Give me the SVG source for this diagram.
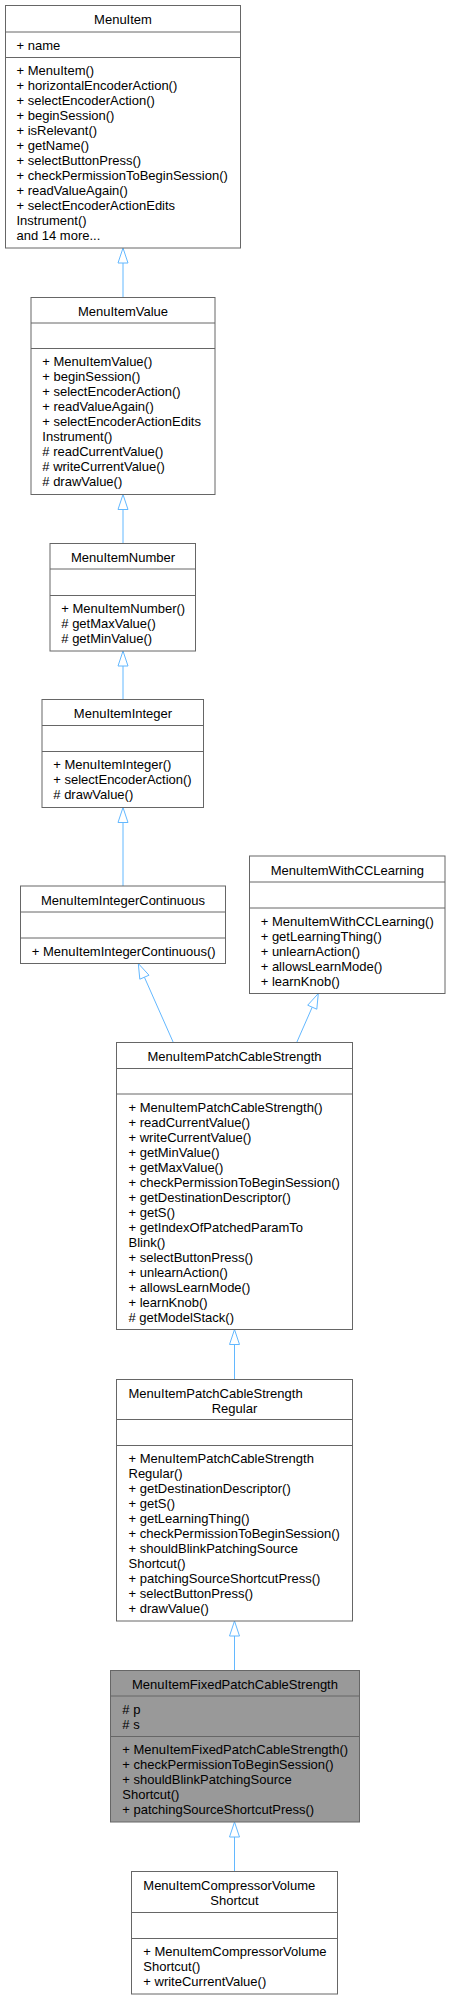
<svg xmlns="http://www.w3.org/2000/svg" width="450" height="2000" viewBox="0 0 450 2000">
<style>
  .box { fill: #ffffff; stroke: #666666; stroke-width: 1; }
  .cur { fill: #999999; stroke: #666666; stroke-width: 1; }
  .sep { stroke: #666666; stroke-width: 1; }
  text { font-family: "Liberation Sans", Arial, sans-serif; font-size: 13px; fill: #000000; }
  .t { text-anchor: middle; }
  .edge { stroke: #63b8ff; stroke-width: 1; fill: none; }
  .head { fill: #ffffff; stroke: #63b8ff; stroke-width: 1; }
</style>
<rect width="450" height="2000" fill="#ffffff"/>

<g id="connectors">
  <line class="edge" x1="123" y1="297.5" x2="123" y2="263"/>
  <polygon class="head" points="123,248 118,263 128,263"/>
  <line class="edge" x1="123" y1="543.5" x2="123" y2="509.5"/>
  <polygon class="head" points="123,494.5 118,509.5 128,509.5"/>
  <line class="edge" x1="123" y1="699.5" x2="123" y2="666"/>
  <polygon class="head" points="123,651 118,666 128,666"/>
  <line class="edge" x1="123" y1="886" x2="123" y2="822.5"/>
  <polygon class="head" points="123,807.5 118,822.5 128,822.5"/>
  <line class="edge" x1="173.3" y1="1042.5" x2="144.4" y2="977.2"/>
  <polygon class="head" points="138.3,963.5 149,975.2 139.8,979.2"/>
  <line class="edge" x1="296.7" y1="1042.5" x2="312.2" y2="1007.2"/>
  <polygon class="head" points="318.3,993.5 316.8,1009.2 307.7,1005.2"/>
  <line class="edge" x1="234.5" y1="1379.5" x2="234.5" y2="1344.5"/>
  <polygon class="head" points="234.5,1329.5 229.5,1344.5 239.5,1344.5"/>
  <line class="edge" x1="234.5" y1="1670.5" x2="234.5" y2="1636"/>
  <polygon class="head" points="234.5,1621 229.5,1636 239.5,1636"/>
  <line class="edge" x1="234.5" y1="1871.5" x2="234.5" y2="1837"/>
  <polygon class="head" points="234.5,1822 229.5,1837 239.5,1837"/>
</g>

<g id="MenuItem">
  <rect class="box" x="5.5" y="5.5" width="235" height="242.5"/>
  <line class="sep" x1="5.5" y1="32" x2="240.5" y2="32"/>
  <line class="sep" x1="5.5" y1="57.5" x2="240.5" y2="57.5"/>
  <text class="t" x="123" y="24">MenuItem</text>
  <text x="16.5" y="49.8">+ name</text>
  <text x="16.5" y="75.3">+ MenuItem()</text>
  <text x="16.5" y="90.3">+ horizontalEncoderAction()</text>
  <text x="16.5" y="105.3">+ selectEncoderAction()</text>
  <text x="16.5" y="120.3">+ beginSession()</text>
  <text x="16.5" y="135.3">+ isRelevant()</text>
  <text x="16.5" y="150.3">+ getName()</text>
  <text x="16.5" y="165.3">+ selectButtonPress()</text>
  <text x="16.5" y="180.3">+ checkPermissionToBeginSession()</text>
  <text x="16.5" y="195.3">+ readValueAgain()</text>
  <text x="16.5" y="210.3">+ selectEncoderActionEdits</text>
  <text x="16.5" y="225.3">Instrument()</text>
  <text x="16.5" y="240.3">and 14 more...</text>
</g>

<g id="MenuItemValue">
  <rect class="box" x="31" y="297.5" width="184" height="197"/>
  <line class="sep" x1="31" y1="323" x2="215" y2="323"/>
  <line class="sep" x1="31" y1="348.5" x2="215" y2="348.5"/>
  <text class="t" x="123" y="316">MenuItemValue</text>
  <text x="42.3" y="366.3">+ MenuItemValue()</text>
  <text x="42.3" y="381.3">+ beginSession()</text>
  <text x="42.3" y="396.3">+ selectEncoderAction()</text>
  <text x="42.3" y="411.3">+ readValueAgain()</text>
  <text x="42.3" y="426.3">+ selectEncoderActionEdits</text>
  <text x="42.3" y="441.3">Instrument()</text>
  <text x="42.3" y="456.3"># readCurrentValue()</text>
  <text x="42.3" y="471.3"># writeCurrentValue()</text>
  <text x="42.3" y="486.3"># drawValue()</text>
</g>

<g id="MenuItemNumber">
  <rect class="box" x="50" y="543.5" width="145.5" height="107.5"/>
  <line class="sep" x1="50" y1="569" x2="195.5" y2="569"/>
  <line class="sep" x1="50" y1="595.5" x2="195.5" y2="595.5"/>
  <text class="t" x="123" y="562">MenuItemNumber</text>
  <text x="61.3" y="613.3">+ MenuItemNumber()</text>
  <text x="61.3" y="628.3"># getMaxValue()</text>
  <text x="61.3" y="643.3"># getMinValue()</text>
</g>

<g id="MenuItemInteger">
  <rect class="box" x="42" y="699.5" width="161.5" height="108"/>
  <line class="sep" x1="42" y1="725.5" x2="203.5" y2="725.5"/>
  <line class="sep" x1="42" y1="751.5" x2="203.5" y2="751.5"/>
  <text class="t" x="123" y="718">MenuItemInteger</text>
  <text x="53.3" y="769.3">+ MenuItemInteger()</text>
  <text x="53.3" y="784.3">+ selectEncoderAction()</text>
  <text x="53.3" y="799.3"># drawValue()</text>
</g>

<g id="MenuItemIntegerContinuous">
  <rect class="box" x="20.5" y="886" width="205" height="77.5"/>
  <line class="sep" x1="20.5" y1="912" x2="225.5" y2="912"/>
  <line class="sep" x1="20.5" y1="938" x2="225.5" y2="938"/>
  <text class="t" x="123" y="904.5">MenuItemIntegerContinuous</text>
  <text x="31.7" y="955.8">+ MenuItemIntegerContinuous()</text>
</g>

<g id="MenuItemWithCCLearning">
  <rect class="box" x="249.5" y="856" width="195.5" height="137.5"/>
  <line class="sep" x1="249.5" y1="882" x2="445" y2="882"/>
  <line class="sep" x1="249.5" y1="908" x2="445" y2="908"/>
  <text class="t" x="347.3" y="874.5">MenuItemWithCCLearning</text>
  <text x="260.7" y="925.8">+ MenuItemWithCCLearning()</text>
  <text x="260.7" y="940.8">+ getLearningThing()</text>
  <text x="260.7" y="955.8">+ unlearnAction()</text>
  <text x="260.7" y="970.8">+ allowsLearnMode()</text>
  <text x="260.7" y="985.8">+ learnKnob()</text>
</g>

<g id="MenuItemPatchCableStrength">
  <rect class="box" x="116.5" y="1042.5" width="236" height="287"/>
  <line class="sep" x1="116.5" y1="1068.5" x2="352.5" y2="1068.5"/>
  <line class="sep" x1="116.5" y1="1094" x2="352.5" y2="1094"/>
  <text class="t" x="234.5" y="1061">MenuItemPatchCableStrength</text>
  <text x="128.5" y="1111.8">+ MenuItemPatchCableStrength()</text>
  <text x="128.5" y="1126.8">+ readCurrentValue()</text>
  <text x="128.5" y="1141.8">+ writeCurrentValue()</text>
  <text x="128.5" y="1156.8">+ getMinValue()</text>
  <text x="128.5" y="1171.8">+ getMaxValue()</text>
  <text x="128.5" y="1186.8">+ checkPermissionToBeginSession()</text>
  <text x="128.5" y="1201.8">+ getDestinationDescriptor()</text>
  <text x="128.5" y="1216.8">+ getS()</text>
  <text x="128.5" y="1231.8">+ getIndexOfPatchedParamTo</text>
  <text x="128.5" y="1246.8">Blink()</text>
  <text x="128.5" y="1261.8">+ selectButtonPress()</text>
  <text x="128.5" y="1276.8">+ unlearnAction()</text>
  <text x="128.5" y="1291.8">+ allowsLearnMode()</text>
  <text x="128.5" y="1306.8">+ learnKnob()</text>
  <text x="128.5" y="1321.8"># getModelStack()</text>
</g>

<g id="MenuItemPatchCableStrengthRegular">
  <rect class="box" x="116.5" y="1379.5" width="236" height="241.5"/>
  <line class="sep" x1="116.5" y1="1419.5" x2="352.5" y2="1419.5"/>
  <line class="sep" x1="116.5" y1="1445.5" x2="352.5" y2="1445.5"/>
  <text x="128.5" y="1397.5">MenuItemPatchCableStrength</text>
  <text class="t" x="234.5" y="1412.5">Regular</text>
  <text x="128.5" y="1463.3">+ MenuItemPatchCableStrength</text>
  <text x="128.5" y="1478.3">Regular()</text>
  <text x="128.5" y="1493.3">+ getDestinationDescriptor()</text>
  <text x="128.5" y="1508.3">+ getS()</text>
  <text x="128.5" y="1523.3">+ getLearningThing()</text>
  <text x="128.5" y="1538.3">+ checkPermissionToBeginSession()</text>
  <text x="128.5" y="1553.3">+ shouldBlinkPatchingSource</text>
  <text x="128.5" y="1568.3">Shortcut()</text>
  <text x="128.5" y="1583.3">+ patchingSourceShortcutPress()</text>
  <text x="128.5" y="1598.3">+ selectButtonPress()</text>
  <text x="128.5" y="1613.3">+ drawValue()</text>
</g>

<g id="MenuItemFixedPatchCableStrength">
  <rect class="cur" x="110.5" y="1670.5" width="249" height="151.5"/>
  <line class="sep" x1="110.5" y1="1696" x2="359.5" y2="1696"/>
  <line class="sep" x1="110.5" y1="1736.5" x2="359.5" y2="1736.5"/>
  <text class="t" x="235" y="1689">MenuItemFixedPatchCableStrength</text>
  <text x="122.3" y="1713.8"># p</text>
  <text x="122.3" y="1728.8"># s</text>
  <text x="122.3" y="1754.3">+ MenuItemFixedPatchCableStrength()</text>
  <text x="122.3" y="1769.3">+ checkPermissionToBeginSession()</text>
  <text x="122.3" y="1784.3">+ shouldBlinkPatchingSource</text>
  <text x="122.3" y="1799.3">Shortcut()</text>
  <text x="122.3" y="1814.3">+ patchingSourceShortcutPress()</text>
</g>

<g id="MenuItemCompressorVolumeShortcut">
  <rect class="box" x="131.5" y="1871.5" width="206" height="122.5"/>
  <line class="sep" x1="131.5" y1="1912.5" x2="337.5" y2="1912.5"/>
  <line class="sep" x1="131.5" y1="1938.5" x2="337.5" y2="1938.5"/>
  <text x="143.3" y="1890">MenuItemCompressorVolume</text>
  <text class="t" x="234.5" y="1904.5">Shortcut</text>
  <text x="143.3" y="1956.3">+ MenuItemCompressorVolume</text>
  <text x="143.3" y="1971.3">Shortcut()</text>
  <text x="143.3" y="1986.3">+ writeCurrentValue()</text>
</g>
</svg>
